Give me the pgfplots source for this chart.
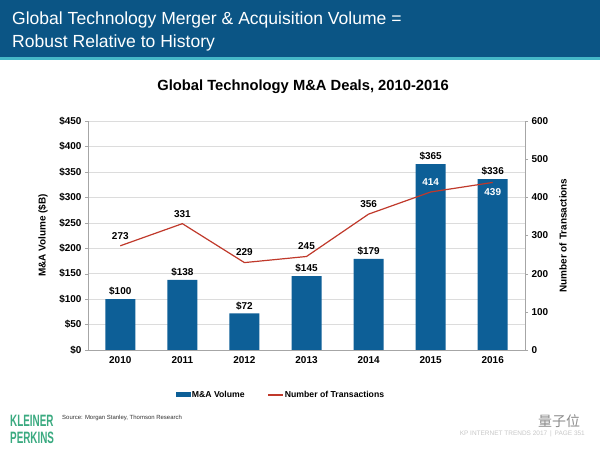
\documentclass[border=0pt]{standalone}
\usepackage{pgfplots}
\pgfplotsset{compat=1.18}
\usepackage{pgfplotstable}
\usepackage{fontspec}
\setmainfont{Liberation Sans}
\newfontfamily\cjk{Noto Sans CJK SC}
\definecolor{hdr}{HTML}{0B5585}
\definecolor{tealc}{HTML}{45B8C8}
\definecolor{barc}{HTML}{0D5F97}
\definecolor{linc}{HTML}{C0392B}
\definecolor{kpg}{HTML}{3AAA80}
\definecolor{gridc}{HTML}{DCDCDC}
\definecolor{axc}{HTML}{A6A6A6}

\pgfplotstableread{
x vol deals
0 100 273
1 138 331
2 72 229
3 145 245
4 179 356
5 365 414
6 336 439
}\data

\begin{document}
\begin{tikzpicture}[x=1bp,y=1bp]
\path[use as bounding box] (0,0) rectangle (600,450);
\fill[white] (0,0) rectangle (600,450);
\fill[hdr] (0,393) rectangle (600,450);
\fill[tealc] (0,390) rectangle (600,393);
\node[anchor=base west, text=white, font=\fontsize{17.6}{21}\selectfont, inner sep=0] at (12,425) {Global Technology Merger \& Acquisition Volume =};
\node[anchor=base west, text=white, font=\fontsize{17.6}{21}\selectfont, inner sep=0] at (12,402) {Robust Relative to History};
\node[anchor=base, font=\bfseries\fontsize{14.8}{17}\selectfont, inner sep=0] at (303,359.5) {Global Technology M\&A Deals, 2010-2016};

\begin{axis}[
 at={(88bp,100bp)}, anchor=south west, scale only axis, width=437bp, height=229bp,
 xmin=-0.52, xmax=6.52, ymin=0, ymax=450,
 axis x line*=bottom, axis y line*=left,
 axis line style={axc},
 xtick={0,...,6}, xticklabels={2010,2011,2012,2013,2014,2015,2016},
 x tick style={draw=none},
 ytick={0,50,...,450}, ymajorgrids, grid style={gridc},
 yticklabel={\$\pgfmathprintnumber{\tick}},
 tick align=outside, major tick length=3bp, y tick style={axc},
 ticklabel style={font=\bfseries\fontsize{10}{12}\selectfont},
 /pgf/number format/assume math mode=true,
 ylabel={M\&A Volume (\$B)},
 every axis y label/.style={at={(axis description cs:-0.103,0.5)}, rotate=90, anchor=center, font=\bfseries\fontsize{10}{12}\selectfont},
 legend style={at={(axis description cs:0.4405,-0.1965)}, anchor=center, draw=none, fill=none,
   font=\bfseries\fontsize{8.7}{10}\selectfont, legend columns=2,
   /tikz/every even column/.append style={column sep=22bp},
   nodes={inner sep=1bp}},
]
\addplot[ybar, bar width=30bp, fill=barc, draw=none,
  nodes near coords={\$\pgfmathprintnumber{\pgfplotspointmeta}},
  every node near coord/.append style={font=\bfseries\fontsize{10}{12}\selectfont, text=black},
  legend image code/.code={\fill[barc] (0bp,-2.5bp) rectangle (15bp,2.5bp);}]
  table[x=x,y=vol]{\data};
\addlegendentry{M\&A Volume}
\addlegendimage{linc, line width=1.2bp, legend image code/.code={\draw[linc, line width=1.2bp] (0bp,0bp) -- (15bp,0bp);}}
\addlegendentry{Number of Transactions}
\end{axis}

\begin{axis}[
 at={(88bp,100bp)}, anchor=south west, scale only axis, width=437bp, height=229bp,
 xmin=-0.52, xmax=6.52, ymin=0, ymax=600,
 axis y line*=right, axis x line=none,
 axis line style={axc},
 ytick={0,100,...,600},
 tick align=outside, major tick length=3bp, y tick style={axc},
 ticklabel style={font=\bfseries\fontsize{10}{12}\selectfont},
 /pgf/number format/assume math mode=true,
 ylabel={Number of Transactions},
 every axis y label/.style={at={(axis description cs:1.087,0.5)}, rotate=90, anchor=center, font=\bfseries\fontsize{10}{12}\selectfont},
]
\addplot[linc, line width=1.2bp, mark=none] table[x=x,y=deals]{\data};
\addplot[draw=none, mark=none, restrict x to domain=0:4,
  nodes near coords,
  every node near coord/.append style={font=\bfseries\fontsize{10}{12}\selectfont, text=black, yshift=3bp}]
  table[x=x,y=deals]{\data};
\addplot[draw=none, mark=none, restrict x to domain=4.5:5.5,
  nodes near coords,
  every node near coord/.append style={font=\bfseries\fontsize{10}{12}\selectfont, text=white, yshift=3bp}]
  table[x=x,y=deals]{\data};
\addplot[draw=none, mark=none, restrict x to domain=5.5:6.5,
  nodes near coords, nodes near coords align={below},
  every node near coord/.append style={font=\bfseries\fontsize{10}{12}\selectfont, text=white, yshift=-3bp}]
  table[x=x,y=deals]{\data};
\end{axis}

\node[anchor=base west, inner sep=0, text=kpg, font=\bfseries\fontsize{16.5}{17}\selectfont] at (10,23) {\scalebox{0.6}[1]{KLEINER}};
\node[anchor=base west, inner sep=0, text=kpg, font=\bfseries\fontsize{16.5}{17}\selectfont] at (10,6) {\scalebox{0.6}[1]{PERKINS}};
\node[anchor=base west, inner sep=0, text=black!80, font=\fontsize{6}{7}\selectfont] at (62,30) {Source: Morgan Stanley, Thomson Research};
\node[anchor=base east, inner sep=0, text=black!22, font=\fontsize{6.5}{7}\selectfont] at (585,14) {KP INTERNET TRENDS 2017 \,|\, PAGE 351};
\node[anchor=base west, inner sep=0, text=black!45, font=\cjk\fontsize{14}{15}\selectfont] at (538,23) {量子位};
\end{tikzpicture}
\end{document}
